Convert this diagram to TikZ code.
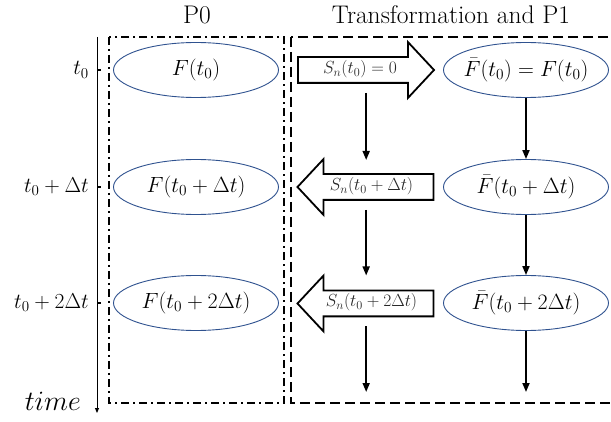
\RequirePackage{fix-cm}
\documentclass[tikz,border=0pt]{standalone}
\usetikzlibrary{shapes.geometric, shapes.arrows, arrows.meta, calc}

\definecolor{ellblue}{RGB}{47,82,143}

\begin{document}
\begin{tikzpicture}[
    x=1pt, y=-1pt,
    state/.style    = {ellipse, draw=ellblue, line width=0.9pt, minimum width=165pt,
                       minimum height=55pt, inner sep=0pt, font=\fontsize{22}{26}\selectfont},
    transfer/.style = {single arrow, draw, line width=1.8pt, fill=white,
                       minimum height=136pt, single arrow head extend=15pt,
                       single arrow tip angle=94, inner ysep=4.5pt, inner xsep=2pt,
                       text height=11pt, text depth=4pt, text=black!85,
                       font=\fontsize{17.5}{20}\selectfont},
    tlabel/.style   = {anchor=east, inner sep=0pt, font=\fontsize{21.5}{25}\selectfont},
    title/.style    = {inner sep=0pt, font=\fontsize{25.5}{29}\selectfont},
    flow/.style     = {-{Triangle[length=9pt, width=7pt]}, line width=1.8pt},
]
\useasboundingbox (0,0) rectangle (611,422);

% boxes and titles
\draw[line width=1.6pt, dash pattern=on 8pt off 4pt on 2pt off 4pt]
    (109,37) rectangle (284,403);
\draw[line width=1.6pt, dash pattern=on 10pt off 5pt]
    (291,37) rectangle (616,403);
\node[title] (tp0) at (197,15) {P0};
\node[title] (tp1) at (451,15) {Transformation and P1};

% time axis
\coordinate (ttop) at (97,37);
\coordinate (tbot) at (97,413);
\draw[line width=0.9pt, -{Triangle[length=5pt, width=4pt]}] (ttop) -- (tbot);
\foreach \y/\lab in {70/t_0, 187/t_0+\Delta t, 303/t_0+2\Delta t} {
  \draw[line width=1.8pt] (97,\y) -- (101,\y);
  \node[tlabel] at (89,\y) {$\lab$};
}
\node[anchor=east, inner sep=0pt, font=\fontsize{28}{32}\selectfont] (time) at (81,401) {$time$};

% P0 states
\node[state] (p1) at (196,70)  {$F(t_0)$};
\node[state] (p2) at (196,187) {$F(t_0+\Delta t)$};
\node[state] (p3) at (196,303) {$F(t_0+2\Delta t)$};

% P1 states
\node[state, inner xsep=-8pt] (q1) at (526,70)  {$\bar{F}(t_0)=F(t_0)$};
\node[state] (q2) at (526,187) {$\bar{F}(t_0+\Delta t)$};
\node[state] (q3) at (526,303) {$\bar{F}(t_0+2\Delta t)$};

% transfer arrows
\node[transfer] (s1) at (360,70)  {$S_n(t_0)=0$};
\node[transfer, shape border rotate=180] (s2) at (371.5,187) {$S_n(t_0+\Delta t)$};
\node[transfer, shape border rotate=180] (s3) at (371.5,303.5) {$S_n(t_0+2\Delta t)$};

\coordinate (m1) at ($(s1.tip)!0.5!(s1.tail)$);
\coordinate (send) at (m1 |- 0,392);
\coordinate (qend) at (526,392);

\draw[flow] ($(m1)+(0,23)$) -- ($(m1 |- s2.center)+(0,-27)$);
\draw[flow] ($(m1 |- s2.center)+(0,23)$) -- ($(m1 |- s3.center)+(0,-28)$);
\draw[flow] ($(m1 |- s3.center)+(0,23)$) -- (send);
\draw[flow] (q1) -- (q2);
\draw[flow] (q2) -- (q3);
\draw[flow] (q3) -- (qend);

\end{tikzpicture}
\end{document}
